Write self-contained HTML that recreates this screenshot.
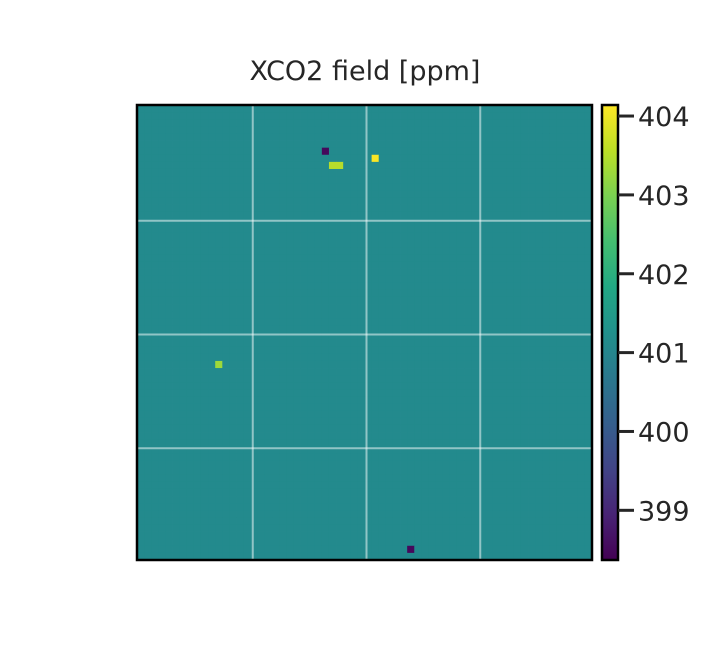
<!DOCTYPE html>
<html><head><meta charset="utf-8">
<style>
body{margin:0;background:#fff;width:728px;height:666px;overflow:hidden;font-family:"DejaVu Sans","Liberation Sans",sans-serif;}
</style></head>
<body>
<svg id="chart" width="728" height="666" xmlns="http://www.w3.org/2000/svg">
<text x="365" y="80" text-anchor="middle" font-size="27" fill="#262626" font-family="DejaVu Sans, Liberation Sans, sans-serif">XCO2 field [ppm]</text>
<g id="cells"></g>
<g id="grid"></g>
<rect x="137" y="105" width="455" height="455" fill="none" stroke="#000" stroke-width="2.5"/>
<defs><linearGradient id="vir" x1="0" y1="1" x2="0" y2="0"></linearGradient></defs>
<rect x="602" y="105" width="16" height="455" fill="url(#vir)" stroke="#000" stroke-width="2.5"/>
<g id="cbticks"></g>
</svg>
<script>
// data
const nRows = 64;
const nCols = 64;
const baseValue = 401.1;
const outlierRows = [7, 8, 8, 6, 36, 62];
const outlierCols = [33, 27, 28, 26, 11, 38];
const outlierValues = [404.1, 403.5, 403.5, 398.5, 403.3, 398.5];
const cbTicks = [399, 400, 401, 402, 403, 404];
const vmin = 398.37, vmax = 404.14;

const VIR = ["#440154","#482475","#414487","#355f8d","#2a788e","#21918c","#22a884","#44bf70","#7ad151","#bddf26","#fde725"];
function hex(h){return [1,3,5].map(i=>parseInt(h.substr(i,2),16));}
function viridis(t){t=Math.max(0,Math.min(1,t));const s=t*10,i=Math.min(9,Math.floor(s)),f=s-i;
 const a=hex(VIR[i]),b=hex(VIR[i+1]);return "rgb("+a.map((v,k)=>Math.round(v+(b[k]-v)*f)).join(",")+")";}
const X0=137,Y0=105,W=455,H=455;
const xCell=c=>X0+c*W/nCols, yCell=r=>Y0+r*H/nRows;
const yCb=v=>Y0+H-(v-vmin)/(vmax-vmin)*H;
const NS="http://www.w3.org/2000/svg";
const grid=[];for(let r=0;r<nRows;r++){grid.push(new Array(nCols).fill(baseValue));}
outlierRows.forEach((r,i)=>{grid[r][outlierCols[i]]=outlierValues[i];});
const g=document.getElementById('cells');
for(let r=0;r<nRows;r++)for(let c=0;c<nCols;c++){
 const e=document.createElementNS(NS,'rect');
 
 
 e.setAttribute('x',xCell(c));e.setAttribute('y',yCell(r));
 e.setAttribute('width',W/nCols+0.4);e.setAttribute('height',H/nRows+0.4);
 e.setAttribute('fill',viridis((grid[r][c]-vmin)/(vmax-vmin)));g.appendChild(e);}
const gg=document.getElementById('grid');
[0.25,0.5,0.75].forEach(f=>{
 [[X0+2+f*W,Y0,X0+2+f*W,Y0+H],[X0,Y0+2+f*H,X0+W,Y0+2+f*H]].forEach(p=>{
  const l=document.createElementNS(NS,'line');
  
  
  l.setAttribute('x1',p[0]);l.setAttribute('y1',p[1]);l.setAttribute('x2',p[2]);l.setAttribute('y2',p[3]);
  l.setAttribute('stroke','rgba(255,255,255,0.5)');l.setAttribute('stroke-width','2');gg.appendChild(l);});});
const lg=document.getElementById('vir');
VIR.forEach((c,i)=>{const s=document.createElementNS(NS,'stop');s.setAttribute('offset',i/10);s.setAttribute('stop-color',c);lg.appendChild(s);});
const ct=document.getElementById('cbticks');
cbTicks.forEach(v=>{
 const l=document.createElementNS(NS,'line');
 
 
 l.setAttribute('x1',618);l.setAttribute('x2',634);l.setAttribute('y1',yCb(v));l.setAttribute('y2',yCb(v));
 l.setAttribute('stroke','#262626');l.setAttribute('stroke-width','3');ct.appendChild(l);
 const t=document.createElementNS(NS,'text');
 
 
 t.setAttribute('x',638);t.setAttribute('y',yCb(v)+10);t.setAttribute('font-size','27');t.setAttribute('fill','#262626');
 t.setAttribute('font-family','DejaVu Sans, Liberation Sans, sans-serif');
 t.textContent=v;ct.appendChild(t);});
</script>
</body></html>
